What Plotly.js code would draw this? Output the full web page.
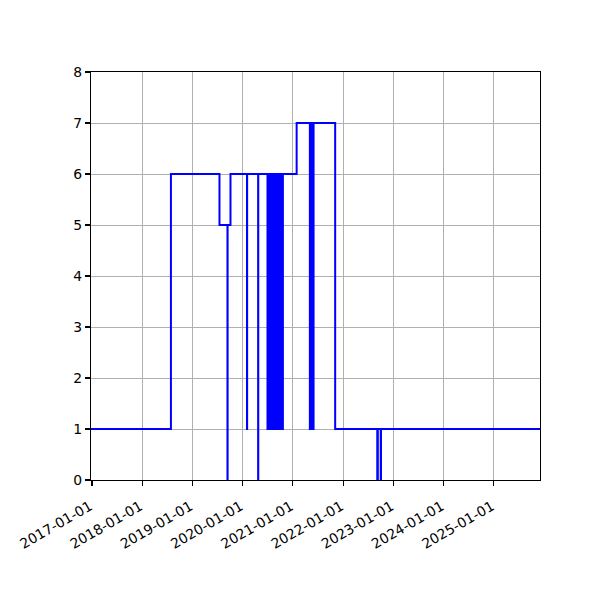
<!DOCTYPE html>
<html>
<head>
<meta charset="utf-8">
<script src="https://cdn.plot.ly/plotly-3.0.1.min.js"></script>
<style>
  body { margin: 0; background: #fff; }
  #chart { width: 600px; height: 600px; }
</style>
</head>
<body>
<div id="chart"></div>
<script>
// step series (value holds until the next date)
const dates = [
    "2016-12-25", "2018-07-29", "2019-07-17", "2019-09-13", "2019-09-14",
    "2019-10-05", "2020-02-02", "2020-02-03", "2020-04-23", "2020-04-24",
    // dense switching block, summer 2020
    "2020-06-30", "2020-07-03", "2020-07-06", "2020-07-10", "2020-07-13",
    "2020-07-17", "2020-07-20", "2020-07-24", "2020-07-27", "2020-07-31",
    "2020-08-03", "2020-08-07", "2020-08-10", "2020-08-14", "2020-08-17",
    "2020-08-21", "2020-08-24", "2020-08-28", "2020-08-31", "2020-09-04",
    "2020-09-07", "2020-09-11", "2020-09-14", "2020-09-18", "2020-09-21",
    "2020-09-25", "2020-09-28", "2020-10-03",
    "2020-10-14", "2020-10-20",
    "2021-01-28",
    "2021-05-04", "2021-05-07", "2021-05-10", "2021-05-13", "2021-05-16",
    "2021-05-19", "2021-05-28", "2021-05-31",
    "2021-11-04",
    "2022-09-06", "2022-09-10", "2022-10-01", "2022-10-03",
    "2025-12-02"
];
const values = [
    1, 6, 5, 0, 5,
    6, 1, 6, 0, 6,
    1, 6, 1, 6, 1,
    6, 1, 6, 1, 6,
    1, 6, 1, 6, 1,
    6, 1, 6, 1, 6,
    1, 6, 1, 6, 1,
    6, 1, 6,
    1, 6,
    7,
    1, 7, 1, 7, 1,
    7, 1, 7,
    1,
    0, 1, 0, 1,
    1
];

const xTicks = ["2017-01-01", "2018-01-01", "2019-01-01", "2020-01-01", "2021-01-01",
                "2022-01-01", "2023-01-01", "2024-01-01", "2025-01-01"];
const yTicks = [0, 1, 2, 3, 4, 5, 6, 7, 8];
const xRange = ["2016-12-25", "2025-12-02"];

const trace = {
    x: dates,
    y: values,
    type: 'scatter',
    mode: 'lines',
    line: { color: '#0000ff', width: 2, shape: 'hv' },
    hoverinfo: 'skip'
};

const axisStyle = {
    showline: true,
    mirror: true,
    linecolor: '#000',
    linewidth: 1.1,
    ticks: 'outside',
    ticklen: 5,
    tickwidth: 1.1,
    tickcolor: '#000',
    showgrid: true,
    gridcolor: '#b0b0b0',
    gridwidth: 1,
    zeroline: false
};

const layout = {
    width: 600,
    height: 600,
    margin: { l: 91, r: 60, t: 72, b: 120 },
    paper_bgcolor: '#fff',
    plot_bgcolor: '#fff',
    showlegend: false,
    font: { family: 'DejaVu Sans, sans-serif', size: 13.9, color: '#000' },
    xaxis: Object.assign({}, axisStyle, {
        type: 'date',
        range: xRange,
        tickvals: xTicks,
        ticktext: xTicks,
        tickangle: -30,
        ticklabelshift: -2,
        ticklabelstandoff: 7
    }),
    yaxis: Object.assign({}, axisStyle, {
        range: [0, 8],
        tickvals: yTicks,
        ticktext: yTicks.map(String)
    })
};

Plotly.newPlot('chart', [trace], layout, { staticPlot: true, displayModeBar: false });
</script>
</body>
</html>
